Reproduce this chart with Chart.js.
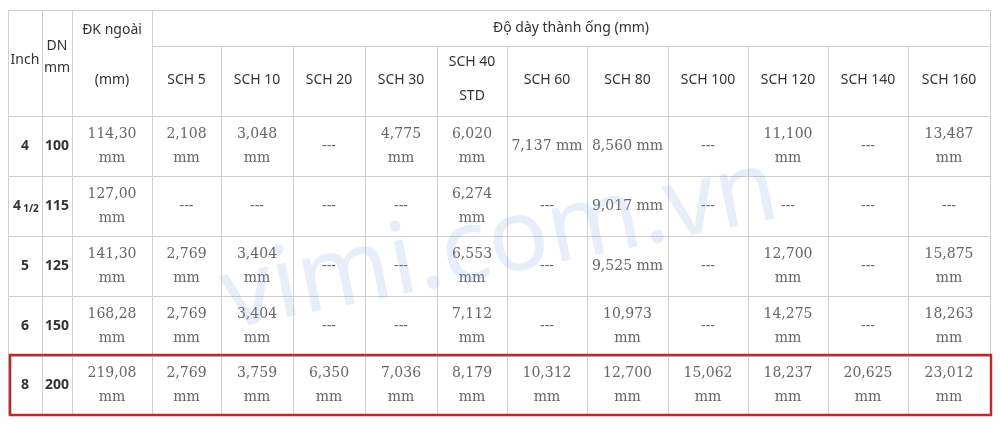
<!DOCTYPE html><html><head><meta charset="utf-8">
<script src="https://cdn.jsdelivr.net/npm/chart.js"></script>
<style>html,body{margin:0;padding:0;background:#fff}#c{display:block}</style></head><body>
<div style="width:1000px;height:426px"><canvas id="c" width="1000" height="426"></canvas></div>
<script>
const schLabels=["SCH 5","SCH 10","SCH 20","SCH 30","SCH 40|STD","SCH 60","SCH 80","SCH 100","SCH 120","SCH 140","SCH 160"];
const inches=["4","41/2","5","6","8"];
const dn=["100","115","125","150","200"];
const dk=["114,30","127,00","141,30","168,28","219,08"];
const row4=["2,108","3,048",null,"4,775","6,020","7,137","8,560",null,"11,100",null,"13,487"];
const row45=[null,null,null,null,"6,274",null,"9,017",null,null,null,null];
const row5=["2,769","3,404",null,null,"6,553",null,"9,525",null,"12,700",null,"15,875"];
const row6=["2,769","3,404",null,null,"7,112",null,"10,973",null,"14,275",null,"18,263"];
const row8=["2,769","3,759","6,350","7,036","8,179","10,312","12,700","15,062","18,237","20,625","23,012"];
const rows=[row4,row45,row5,row6,row8];
const singleLine=["7,137","8,560","9,017","9,525"];
// layout (pixel units on the hidden linear scales)
const colEdges=[8,42,72,152,221,293,365,437,507,587,668,748,828,908,990];
const rowEdges=[10,46,116,176,236,296,356,414];
const SERIF='"DejaVu Serif", serif', SANS='"Noto Sans", sans-serif';
const tablePlugin={id:'table',afterDraw(ch){
 const c=ch.ctx,X=v=>ch.scales.x.getPixelForValue(v),Y=v=>ch.scales.y.getPixelForValue(v);
 c.save();
 c.strokeStyle='#cfcfcf';c.lineWidth=1;
 const L=X(colEdges[0]),R=X(colEdges[colEdges.length-1]);
 rowEdges.forEach((r,i)=>{c.beginPath();const x0=i==1?X(colEdges[3]):L;c.moveTo(x0,Y(r)+.5);c.lineTo(R,Y(r)+.5);c.stroke();});
 colEdges.forEach((e,i)=>{c.beginPath();const y0=(i>3&&i<colEdges.length-1)?Y(rowEdges[1]):Y(rowEdges[0]);c.moveTo(X(e)+.5,y0);c.lineTo(X(e)+.5,Y(rowEdges[rowEdges.length-1]));c.stroke();});
 c.textAlign='center';c.textBaseline='middle';
 const cx=i=>(X(colEdges[i])+X(colEdges[i+1]))/2;
 c.fillStyle='#333';c.font='14px '+SANS;
 c.fillText('Inch',cx(0),Y(60));
 c.fillText('DN',cx(1),Y(46));c.fillText('mm',cx(1),Y(68));
 c.fillText('ĐK ngoài',cx(2),Y(30));c.fillText('(mm)',cx(2),Y(80));
 c.fillText('Độ dày thành ống (mm)',(X(colEdges[3])+R)/2,Y(28));
 schLabels.forEach((s,i)=>{const p=s.split('|');
  if(p.length>1){c.fillText(p[0],cx(i+3),Y(62));c.fillText(p[1],cx(i+3),Y(96));}
  else c.fillText(s,cx(i+3),Y(80));});
 rows.forEach((row,r)=>{
  const ym=(Y(rowEdges[r+2])+Y(rowEdges[r+3]))/2;
  c.fillStyle='#333';c.font='bold 14px '+SANS;
  if(inches[r].includes('/')){c.fillText('4',cx(0)-8,ym);c.font='bold 10px '+SANS;c.fillText('1/2',cx(0)+6,ym+3);}
  else c.fillText(inches[r],cx(0),ym);
  c.font='bold 14px '+SANS;c.fillText(dn[r],cx(1),ym);
  c.fillStyle='#666';c.font='14px '+SERIF;
  const cell=(t,i)=>{
   if(t==null){c.fillText('---',cx(i),ym);return;}
   if(singleLine.includes(t))c.fillText(t+' mm',cx(i),ym);
   else{c.fillText(t,cx(i),ym-12);c.fillText('mm',cx(i),ym+12);}};
  cell(dk[r],2);
  row.forEach((v,i)=>cell(v,i+3));
 });
 c.strokeStyle='#c0282d';c.lineWidth=2.5;
 c.strokeRect(L+2,Y(355),R-L-1,Y(415)-Y(355));
 c.translate(X(500),Y(245));c.rotate(-0.2);
 c.font='100px '+SANS;c.fillStyle='rgba(120,160,220,0.18)';
 c.fillText('vimi.com.vn',0,0);
 c.restore();
}};
new Chart(document.getElementById('c'),{type:'scatter',data:{datasets:[]},
 options:{responsive:false,animation:false,layout:{padding:0},
  plugins:{legend:{display:false},tooltip:{enabled:false}},
  scales:{x:{type:'linear',min:0,max:1000,display:false},y:{type:'linear',min:0,max:426,reverse:true,display:false}}},
 plugins:[tablePlugin]});
</script></body></html>
